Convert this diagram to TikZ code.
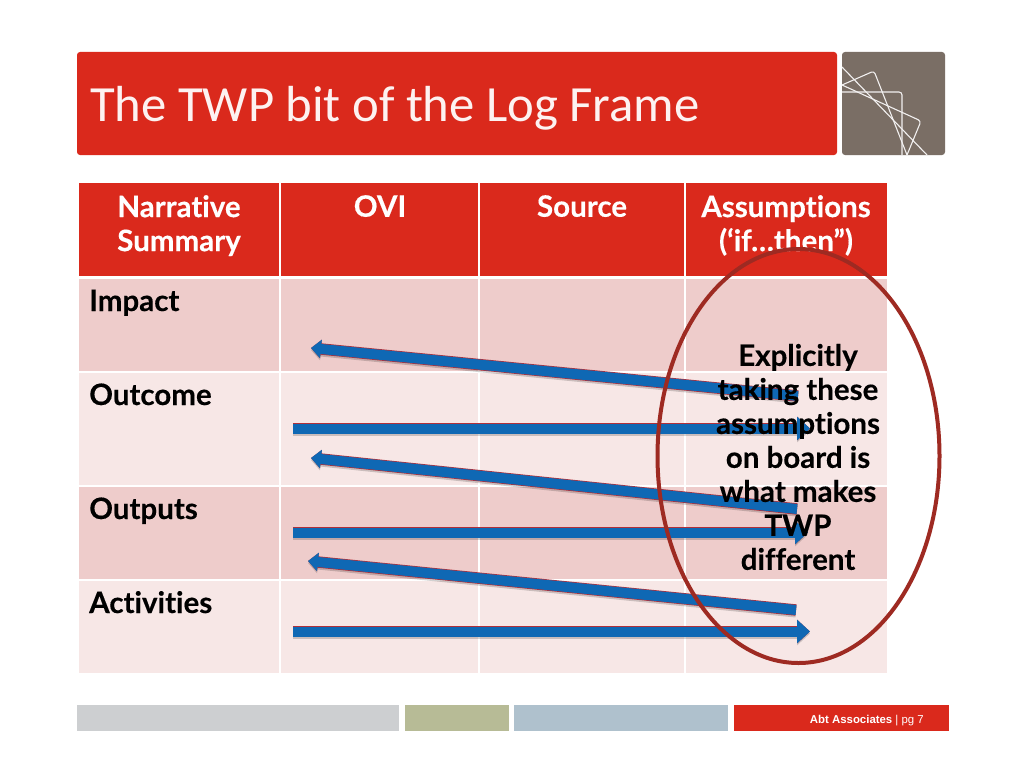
\documentclass[tikz,border=0pt]{standalone}
\usepackage{fontspec}
\setmainfont[Ligatures=CommonOff,BoldFeatures={FakeBold=0.3}]{Lato}
\newfontfamily\titlefont{Carlito}
\newfontfamily\footfont{Liberation Sans}
\usetikzlibrary{arrows.meta,positioning}
\definecolor{abtred}{HTML}{DA291C}
\definecolor{logogray}{HTML}{7A6E65}
\definecolor{rowdark}{HTML}{EECCCB}
\definecolor{rowlight}{HTML}{F7E7E6}
\definecolor{ringred}{HTML}{9E2A22}
\definecolor{arrowblue}{HTML}{0F68B4}
\definecolor{arrowedge}{HTML}{B0303A}
\definecolor{footgray}{HTML}{CDCFD1}
\definecolor{footolive}{HTML}{B7BB96}
\definecolor{footblue}{HTML}{AFC1CD}
\tikzset{
    celltext/.style={font=\bfseries\fontsize{29.5}{34}\selectfont, text=black, inner sep=0pt},
    headtext/.style={font=\bfseries\fontsize{29.5}{34}\selectfont, text=white, inner sep=0pt, align=center, anchor=north},
    logoline/.style={draw=white!90!logogray, line width=1.1pt, rounded corners=3pt},
    blockarrow/.style 2 args={line width=10pt, draw=arrowblue, -{Triangle[length=#1,width=#2,fill=arrowblue]},
        preaction={draw=black, opacity=0.18, line width=11pt, transform canvas={yshift=-2pt}, -{Triangle[length=#1,width=#2,fill=black]}},
        preaction={draw=arrowedge, line width=11.4pt, -{Triangle[length=#1,width=#2,fill=arrowedge]}}},
    slantarrow/.style={blockarrow={10pt}{18pt}},
    flatarrow/.style={blockarrow={13pt}{23pt}}
}
\begin{document}
\begin{tikzpicture}[x=1pt,y=-1pt]
    \useasboundingbox (0,0) rectangle (1024,768);
    \fill[white] (0,0) rectangle (1024,768);

    % title bar and logo
    \fill[abtred, rounded corners=3pt] (77,52) rectangle (837,155);
    \node[font=\titlefont\fontsize{50.7}{60}\selectfont, text=white!94!abtred, anchor=base west, inner sep=0pt] (title) at (90,121) {The TWP bit of the Log Frame};
    \fill[logogray, rounded corners=3pt] (842,52) rectangle (945,155);
    \draw[logoline] (842,92) -- (902,92) -- (902,155);
    \draw[logoline] (842,85) -- (874,71) -- (907,155);
    \draw[logoline] (842,85) -- (921,121) -- (907,155);
    \draw[logoline] (842,67) -- (927,155);

    % header row
    \fill[abtred] (79,183) rectangle (279,276);
    \fill[abtred] (281,183) rectangle (478,276);
    \fill[abtred] (480,183) rectangle (684,276);
    \fill[abtred] (686,183) rectangle (887,276);

    % body rows
    \foreach \top/\bot/\shade in {279/371/rowdark, 373/485/rowlight, 487/579/rowdark, 581/673/rowlight} {
        \fill[\shade] (79,\top) rectangle (279,\bot);
        \fill[\shade] (281,\top) rectangle (478,\bot);
        \fill[\shade] (480,\top) rectangle (684,\bot);
        \fill[\shade] (686,\top) rectangle (887,\bot);
    }

    % header labels
    \node[headtext] (narrative) at (179,195) {Narrative\\Summary};
    \node[headtext] (ovi) at (380,195) {OVI};
    \node[headtext] (source) at (582,195) {Source};
    \node[headtext] (assumptions) at (786,195) {Assumptions\\(‘if…then”)};

    % row labels
    \node[celltext, anchor=base west] (impact) at (89,311) {Impact};
    \node[celltext, anchor=base west] (outcome) at (89,405) {Outcome};
    \node[celltext, anchor=base west] (outputs) at (89,519) {Outputs};
    \node[celltext, anchor=base west] (activities) at (89,613) {Activities};

    % arrow ends
    \coordinate (a1) at (798,396);
    \coordinate (a2) at (311,348);
    \coordinate (b1) at (293,428.5);
    \coordinate (b2) at (810,428.5);
    \coordinate (c1) at (797,509);
    \coordinate (c2) at (311,458);
    \coordinate (d1) at (293,532.5);
    \coordinate (d2) at (808,532.5);
    \coordinate (e1) at (796,610);
    \coordinate (e2) at (308,561);
    \coordinate (f1) at (293,631.5);
    \coordinate (f2) at (810,631.5);

    \draw[slantarrow] (a1) -- (a2);
    \draw[flatarrow] (b1) -- (b2);
    \draw[slantarrow] (c1) -- (c2);
    \draw[flatarrow] (d1) -- (d2);
    \draw[slantarrow] (e1) -- (e2);
    \draw[flatarrow] (f1) -- (f2);

    % ring round the last column
    \draw[ringred, line width=4pt] (798.5,456) ellipse (141 and 207);
    \node[celltext, align=center] (callout) at (798,457) {Explicitly\\taking these\\assumptions\\on board is\\what makes\\TWP\\different};

    % footer strip
    \fill[footgray] (77,705) rectangle (399,731);
    \fill[footolive] (405,705) rectangle (509,731);
    \fill[footblue] (514,705) rectangle (728,731);
    \fill[abtred] (734,705) rectangle (949,731);
    \node[font=\footfont\fontsize{11.4}{13}\selectfont, text=white, anchor=east, inner sep=0pt] (pagetag) at (924,720.5) {\textbf{Abt Associates} | pg 7};
\end{tikzpicture}
\end{document}
